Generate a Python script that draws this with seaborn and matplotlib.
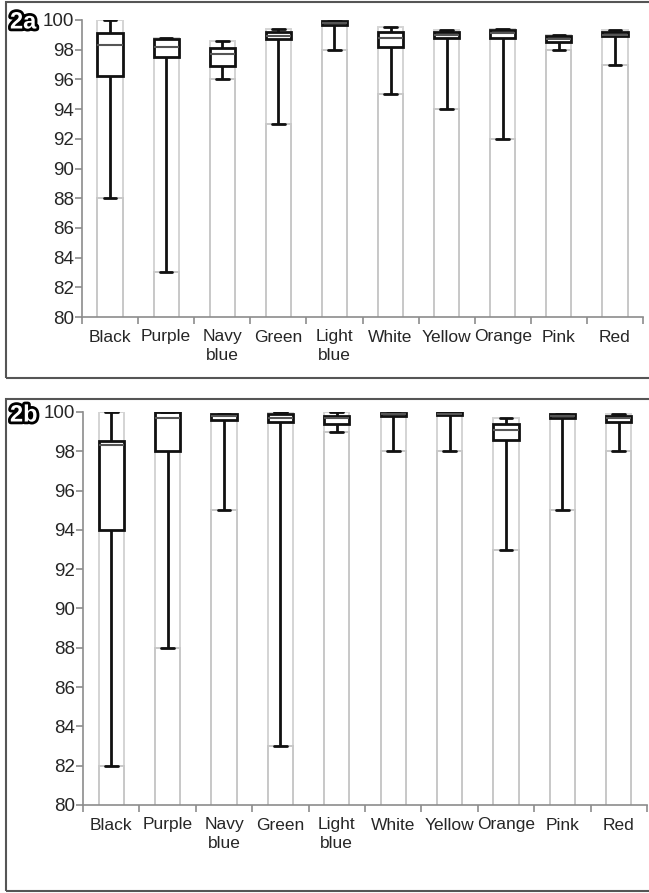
import numpy as np
import pandas as pd
import matplotlib
matplotlib.use("Agg")
import matplotlib.pyplot as plt
import matplotlib.patheffects as pe
from matplotlib.patches import Rectangle
import seaborn as sns

# categories
colors = ["Black", "Purple", "Navy\nblue", "Green", "Light\nblue",
          "White", "Yellow", "Orange", "Pink", "Red"]

# panel 2a: box statistics
a_min = [88.0, 83.0, 96.0, 93.0, 98.0, 95.0, 94.0, 92.0, 98.0, 97.0]
a_q1 = [96.2, 97.5, 96.9, 98.7, 99.65, 98.2, 98.8, 98.8, 98.5, 98.9]
a_med = [98.3, 98.2, 97.7, 98.95, 99.8, 98.8, 99.0, 99.1, 98.7, 99.0]
a_q3 = [99.1, 98.7, 98.1, 99.2, 99.9, 99.2, 99.2, 99.3, 98.9, 99.2]
a_max = [100.0, 98.8, 98.6, 99.4, 99.9, 99.5, 99.3, 99.4, 99.0, 99.3]

# panel 2b
b_min = [82.0, 88.0, 95.0, 83.0, 99.0, 98.0, 98.0, 93.0, 95.0, 98.0]
b_q1 = [94.0, 98.0, 99.6, 99.5, 99.4, 99.8, 99.85, 98.6, 99.7, 99.5]
b_med = [98.3, 99.7, 99.8, 99.7, 99.7, 99.9, 99.9, 99.1, 99.8, 99.7]
b_q3 = [98.5, 100.0, 99.9, 99.9, 99.8, 99.95, 100.0, 99.4, 99.9, 99.8]
b_max = [100.0, 100.0, 99.9, 100.0, 100.0, 99.95, 100.0, 99.7, 99.9, 99.9]

sns.set_style("white")
plt.rcParams["font.family"] = ["Liberation Sans", "DejaVu Sans"]

fig = plt.figure(figsize=(6.49, 8.93), dpi=100)

# panel frames
fig.patches.append(Rectangle((6 / 649, 1 - 378 / 893), 0.995, 376 / 893,
                             transform=fig.transFigure, fill=False,
                             edgecolor="#555555", lw=1.5, zorder=0))
fig.patches.append(Rectangle((6 / 649, 1 - 891 / 893), 0.995, 492 / 893,
                             transform=fig.transFigure, fill=False,
                             edgecolor="#555555", lw=1.5, zorder=0))

ax_a = fig.add_axes([82 / 649, 1 - 317 / 893, 561 / 649, 297 / 893])
ax_b = fig.add_axes([83 / 649, 1 - 805 / 893, 564 / 649, 393 / 893])


def draw_panel(ax, mins, q1, med, q3, maxs):
    # stacked background bars (Excel style), white with light grey outline
    sns.barplot(x=colors, y=maxs, order=colors, color="white", edgecolor="#d4d4d4",
                linewidth=1.4, width=0.45, ax=ax, zorder=1)
    sns.barplot(x=colors, y=mins, order=colors, color="white", edgecolor="#c8c8c8",
                linewidth=1.4, width=0.45, ax=ax, zorder=1)

    # five-number data per category -> boxplot with whiskers at min/max
    long = pd.DataFrame({
        "color": np.repeat(colors, 5),
        "value": np.column_stack([mins, q1, med, q3, maxs]).ravel(),
    })
    sns.boxplot(data=long, x="color", y="value", order=colors, whis=(0, 100),
                width=0.45, fill=True, color="white", linecolor="#111111",
                linewidth=2, showfliers=False, ax=ax,
                boxprops=dict(zorder=3, facecolor="white", edgecolor="#111111"),
                medianprops=dict(color="#555555", linewidth=1.5, zorder=4),
                whiskerprops=dict(color="#111111", linewidth=2, zorder=3),
                capprops=dict(color="#111111", linewidth=2, zorder=3))

    ax.set_ylim(80, 100)
    ax.set_xlim(-0.5, len(colors) - 0.5)
    ax.set_yticks(np.arange(80, 101, 2))
    ax.set_xlabel("")
    ax.set_ylabel("")
    for s in ["top", "right"]:
        ax.spines[s].set_visible(False)
    for s in ["left", "bottom"]:
        ax.spines[s].set_color("#8c8c8c")
        ax.spines[s].set_linewidth(1.2)
    ax.set_xticks(np.arange(len(colors)))
    ax.set_xticklabels(colors, fontsize=12.5, linespacing=1.3)
    ax.set_xticks(np.arange(len(colors) + 1) - 0.5, minor=True)
    ax.tick_params(axis="x", which="major", length=0, pad=9)
    ax.tick_params(axis="x", which="minor", length=5, color="#8c8c8c", width=1.2)
    ax.tick_params(axis="y", length=5, color="#8c8c8c", width=1.2, labelsize=13.5, pad=1)
    ax.tick_params(left=True, bottom=True, which="both", direction="out")
    ax.set_facecolor("white")


draw_panel(ax_a, a_min, a_q1, a_med, a_q3, a_max)
draw_panel(ax_b, b_min, b_q1, b_med, b_q3, b_max)

for label, y in [("2a", 1 - 22 / 893), ("2b", 1 - 415 / 893)]:
    fig.text(10 / 649, y, label, fontsize=17, fontweight="bold", color="white",
             va="center", ha="left",
             path_effects=[pe.withStroke(linewidth=4, foreground="black")])

fig.savefig("out.png", dpi=100)
